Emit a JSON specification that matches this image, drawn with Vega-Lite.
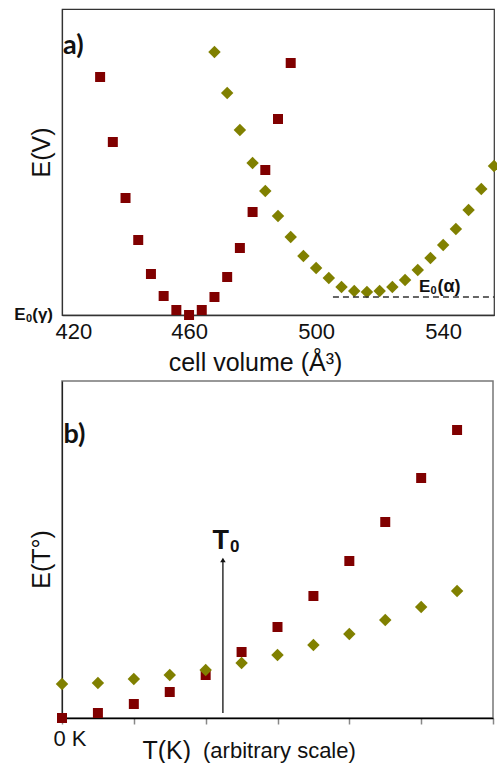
{
  "$schema": "https://vega.github.io/schema/vega-lite/v6.json",
  "padding": {"left": 13, "top": 8, "right": 4, "bottom": 0},
  "spacing": 4,
  "background": "white",
  "config": {
    "font": "Liberation Sans",
    "axis": {"labelFont": "Liberation Sans", "titleFont": "Liberation Sans", "labelColor": "#111", "titleColor": "#111", "titleFontWeight": "normal", "grid": false}
  },
  "datasets": {
    "vol": [
      {"phase": "γ", "V": 432, "E": 238}, {"phase": "γ", "V": 436, "E": 173}, {"phase": "γ", "V": 440, "E": 117},
      {"phase": "γ", "V": 444, "E": 75}, {"phase": "γ", "V": 448, "E": 41}, {"phase": "γ", "V": 452, "E": 19},
      {"phase": "γ", "V": 456, "E": 5}, {"phase": "γ", "V": 460, "E": 0}, {"phase": "γ", "V": 464, "E": 5},
      {"phase": "γ", "V": 468, "E": 18}, {"phase": "γ", "V": 472, "E": 38}, {"phase": "γ", "V": 476, "E": 67},
      {"phase": "γ", "V": 480, "E": 103}, {"phase": "γ", "V": 484, "E": 145}, {"phase": "γ", "V": 488, "E": 196},
      {"phase": "γ", "V": 492, "E": 252},
      {"phase": "α", "V": 468, "E": 263}, {"phase": "α", "V": 472, "E": 222}, {"phase": "α", "V": 476, "E": 185},
      {"phase": "α", "V": 480, "E": 152}, {"phase": "α", "V": 484, "E": 124}, {"phase": "α", "V": 488, "E": 99},
      {"phase": "α", "V": 492, "E": 78}, {"phase": "α", "V": 496, "E": 59}, {"phase": "α", "V": 500, "E": 47},
      {"phase": "α", "V": 504, "E": 37}, {"phase": "α", "V": 508, "E": 28}, {"phase": "α", "V": 512, "E": 24},
      {"phase": "α", "V": 516, "E": 23}, {"phase": "α", "V": 520, "E": 24}, {"phase": "α", "V": 524, "E": 28},
      {"phase": "α", "V": 528, "E": 35}, {"phase": "α", "V": 532, "E": 45}, {"phase": "α", "V": 536, "E": 57},
      {"phase": "α", "V": 540, "E": 70}, {"phase": "α", "V": 544, "E": 86}, {"phase": "α", "V": 548, "E": 105},
      {"phase": "α", "V": 552, "E": 126}, {"phase": "α", "V": 556, "E": 149}
    ],
    "temp": [
      {"phase": "γ", "T": 0, "E": 0}, {"phase": "γ", "T": 0.5, "E": 5}, {"phase": "γ", "T": 1, "E": 14},
      {"phase": "γ", "T": 1.5, "E": 26}, {"phase": "γ", "T": 2, "E": 43}, {"phase": "γ", "T": 2.5, "E": 66},
      {"phase": "γ", "T": 3, "E": 91}, {"phase": "γ", "T": 3.5, "E": 122}, {"phase": "γ", "T": 4, "E": 157},
      {"phase": "γ", "T": 4.5, "E": 196}, {"phase": "γ", "T": 5, "E": 240}, {"phase": "γ", "T": 5.5, "E": 288},
      {"phase": "α", "T": 0, "E": 34}, {"phase": "α", "T": 0.5, "E": 35}, {"phase": "α", "T": 1, "E": 39},
      {"phase": "α", "T": 1.5, "E": 43}, {"phase": "α", "T": 2, "E": 48}, {"phase": "α", "T": 2.5, "E": 55},
      {"phase": "α", "T": 3, "E": 63}, {"phase": "α", "T": 3.5, "E": 73}, {"phase": "α", "T": 4, "E": 84},
      {"phase": "α", "T": 4.5, "E": 98}, {"phase": "α", "T": 5, "E": 111}, {"phase": "α", "T": 5.5, "E": 127}
    ]
  },
  "vconcat": [
    {
      "width": 432,
      "height": 306,
      "view": {"stroke": "#333", "strokeWidth": 1.2},
      "layer": [
        {
          "data": {"name": "vol"},
          "mark": {"type": "point", "filled": true, "opacity": 1},
          "encoding": {
            "x": {"field": "V", "type": "quantitative",
              "scale": {"domain": [420, 556], "nice": false, "zero": false},
              "axis": {"values": [420, 460, 500, 540], "ticks": false, "labelFontSize": 22, "labelPadding": 6, "labelFlush": true, "labelFlushOffset": 7,
                "domainColor": "#333", "domainWidth": 1.5,
                "title": "cell volume (Å³)", "titleFontSize": 25, "titleY": 47, "titleBaseline": "middle", "titleX": 193, "titleAnchor": "middle"}},
            "y": {"field": "E", "type": "quantitative",
              "scale": {"domain": [0, 306], "nice": false, "zero": false},
              "axis": {"values": [], "ticks": false, "labels": false,
                "domainColor": "#333", "domainWidth": 1.2,
                "title": "E(V)", "titleFontSize": 25, "titleX": -21, "titleY": 143, "titleBaseline": "middle", "titleAngle": -90}},
            "color": {"field": "phase", "type": "nominal", "scale": {"domain": ["γ", "α"], "range": ["#800000", "#808000"]}, "legend": null},
            "shape": {"field": "phase", "type": "nominal", "scale": {"domain": ["γ", "α"], "range": ["square", "diamond"]}, "legend": null},
            "size": {"field": "phase", "type": "nominal", "scale": {"domain": ["γ", "α"], "range": [100, 155]}, "legend": null}
          }
        },
        {
          "data": {"values": [{"V": 505.3, "V2": 556, "E": 18}]},
          "mark": {"type": "rule", "strokeDash": [6, 4], "color": "#333", "strokeWidth": 1.3},
          "encoding": {"x": {"field": "V", "type": "quantitative"}, "x2": {"field": "V2"}, "y": {"field": "E", "type": "quantitative"}}
        },
        {
          "data": {"values": [{"V": 532.4, "E": 28, "label": "E"}]},
          "mark": {"type": "text", "align": "left", "baseline": "middle", "fontSize": 17, "fontWeight": "bold", "font": "Liberation Sans", "color": "#111"},
          "encoding": {"x": {"field": "V", "type": "quantitative"}, "y": {"field": "E", "type": "quantitative"}, "text": {"field": "label"}}
        },
        {
          "data": {"values": [{"V": 532.4, "E": 28, "label": "0"}]},
          "mark": {"type": "text", "align": "left", "baseline": "middle", "dx": 11.5, "dy": 4, "fontSize": 11, "fontWeight": "bold", "font": "Liberation Sans", "color": "#111"},
          "encoding": {"x": {"field": "V", "type": "quantitative"}, "y": {"field": "E", "type": "quantitative"}, "text": {"field": "label"}}
        },
        {
          "data": {"values": [{"V": 532.4, "E": 28, "label": "(α)"}]},
          "mark": {"type": "text", "align": "left", "baseline": "middle", "dx": 18.5, "fontSize": 18, "fontWeight": "bold", "font": "Liberation Sans", "color": "#111"},
          "encoding": {"x": {"field": "V", "type": "quantitative"}, "y": {"field": "E", "type": "quantitative"}, "text": {"field": "label"}}
        },
        {
          "data": {"values": [{"V": 420, "E": 0, "label": "(γ)"}]},
          "mark": {"type": "text", "align": "right", "baseline": "middle", "dx": -9, "fontSize": 17, "fontWeight": "bold", "font": "Liberation Sans", "color": "#111"},
          "encoding": {"x": {"field": "V", "type": "quantitative"}, "y": {"field": "E", "type": "quantitative"}, "text": {"field": "label"}}
        },
        {
          "data": {"values": [{"V": 420, "E": 0, "label": "0"}]},
          "mark": {"type": "text", "align": "right", "baseline": "middle", "dx": -30, "dy": 4, "fontSize": 11, "fontWeight": "bold", "font": "Liberation Sans", "color": "#111"},
          "encoding": {"x": {"field": "V", "type": "quantitative"}, "y": {"field": "E", "type": "quantitative"}, "text": {"field": "label"}}
        },
        {
          "data": {"values": [{"V": 420, "E": 0, "label": "E"}]},
          "mark": {"type": "text", "align": "right", "baseline": "middle", "dx": -36.5, "fontSize": 17, "fontWeight": "bold", "font": "Liberation Sans", "color": "#111"},
          "encoding": {"x": {"field": "V", "type": "quantitative"}, "y": {"field": "E", "type": "quantitative"}, "text": {"field": "label"}}
        },
        {
          "data": {"values": [{"V": 420.3, "E": 269, "label": "a)"}]},
          "mark": {"type": "text", "align": "left", "baseline": "middle", "fontSize": 27, "fontWeight": "bold", "font": "Lato", "color": "#111"},
          "encoding": {"x": {"field": "V", "type": "quantitative"}, "y": {"field": "E", "type": "quantitative"}, "text": {"field": "label"}}
        }
      ]
    },
    {
      "width": 431,
      "height": 337,
      "view": {"stroke": "#777", "strokeWidth": 1.5},
      "layer": [
        {
          "data": {"name": "temp"},
          "mark": {"type": "point", "filled": true, "opacity": 1},
          "encoding": {
            "x": {"field": "T", "type": "quantitative",
              "scale": {"domain": [0, 6], "nice": false, "zero": false},
              "axis": {"values": [0, 1, 2, 3, 4, 5, 6], "labelExpr": "datum.value == 0 ? '0 K' : ''", "ticks": true, "tickSize": 6, "tickColor": "#888", "tickWidth": 1.5,
                "labelFontSize": 22, "labelPadding": 4, "labelOffset": -9,
                "domainColor": "#000", "domainWidth": 1.5,
                "title": "T(K)", "titleFontSize": 25, "titleY": 32, "titleBaseline": "middle", "titleX": 80, "titleAnchor": "start", "titleAlign": "left"}},
            "y": {"field": "E", "type": "quantitative",
              "scale": {"domain": [0, 337], "nice": false, "zero": false},
              "axis": {"values": [], "ticks": false, "labels": false,
                "domainColor": "#222", "domainWidth": 1.2,
                "title": "E(T°)", "titleFontSize": 25, "titleX": -21, "titleY": 178, "titleBaseline": "middle", "titleAngle": -90}},
            "color": {"field": "phase", "type": "nominal", "scale": {"domain": ["γ", "α"], "range": ["#800000", "#808000"]}, "legend": null},
            "shape": {"field": "phase", "type": "nominal", "scale": {"domain": ["γ", "α"], "range": ["square", "diamond"]}, "legend": null},
            "size": {"field": "phase", "type": "nominal", "scale": {"domain": ["γ", "α"], "range": [130, 215]}, "legend": null}
          }
        },
        {
          "data": {"values": [{"T": 2.24, "E": 5, "E2": 157}]},
          "mark": {"type": "rule", "color": "#111", "strokeWidth": 1.3},
          "encoding": {"x": {"field": "T", "type": "quantitative"}, "y": {"field": "E", "type": "quantitative"}, "y2": {"field": "E2"}}
        },
        {
          "data": {"values": [{"T": 2.24, "E": 158}]},
          "mark": {"type": "point", "shape": "triangle-up", "filled": true, "color": "#111", "size": 30, "opacity": 1},
          "encoding": {"x": {"field": "T", "type": "quantitative"}, "y": {"field": "E", "type": "quantitative"}}
        },
        {
          "data": {"values": [{"T": 2.24, "E": 177.5, "label": "T"}]},
          "mark": {"type": "text", "align": "right", "baseline": "middle", "dx": 6, "fontSize": 27, "fontWeight": "bold", "font": "Liberation Sans", "color": "#111"},
          "encoding": {"x": {"field": "T", "type": "quantitative"}, "y": {"field": "E", "type": "quantitative"}, "text": {"field": "label"}}
        },
        {
          "data": {"values": [{"T": 2.24, "E": 171, "label": "0"}]},
          "mark": {"type": "text", "align": "left", "baseline": "middle", "dx": 7, "fontSize": 17, "fontWeight": "bold", "font": "Liberation Sans", "color": "#111"},
          "encoding": {"x": {"field": "T", "type": "quantitative"}, "y": {"field": "E", "type": "quantitative"}, "text": {"field": "label"}}
        },
        {
          "data": {"values": [{"T": 0.02, "E": 283, "label": "b)"}]},
          "mark": {"type": "text", "align": "left", "baseline": "middle", "fontSize": 27, "fontWeight": "bold", "font": "Lato", "color": "#111"},
          "encoding": {"x": {"field": "T", "type": "quantitative"}, "y": {"field": "E", "type": "quantitative"}, "text": {"field": "label"}}
        },
        {
          "data": {"values": [{"T": 1.963, "E": -33, "label": "(arbitrary scale)"}]},
          "mark": {"type": "text", "align": "left", "baseline": "middle", "fontSize": 22, "font": "Liberation Sans", "color": "#111"},
          "encoding": {"x": {"field": "T", "type": "quantitative"}, "y": {"field": "E", "type": "quantitative"}, "text": {"field": "label"}}
        }
      ]
    }
  ]
}
